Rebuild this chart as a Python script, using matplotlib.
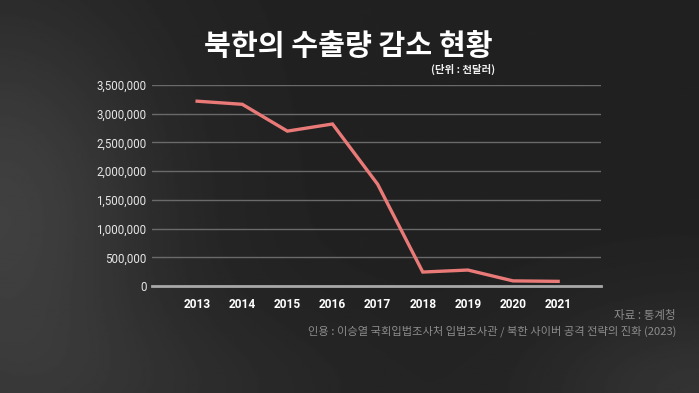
import numpy as np
import matplotlib
matplotlib.use('Agg')
import matplotlib.pyplot as plt

# data (unit: thousand dollars)
years = [2013, 2014, 2015, 2016, 2017, 2018, 2019, 2020, 2021]
exports = [3218000, 3164000, 2697000, 2821000, 1772000, 243000, 278000, 89000, 81000]
yticks = [0, 500000, 1000000, 1500000, 2000000, 2500000, 3000000, 3500000]

title = '북한의 수출량 감소 현황'
unit = '(단위 : 천달러)'
source = '자료 : 통계청'
cite = '인용 : 이승열 국회입법조사처 입법조사관 / 북한 사이버 공격 전략의 진화 (2023)'

kr = ['Noto Sans CJK KR', 'DejaVu Sans']
narrow = ['Liberation Sans Narrow', 'Roboto', 'DejaVu Sans']

fig = plt.figure(figsize=(6.99, 3.93), dpi=100)

# dark background with soft lighter patches
bg = fig.add_axes([0, 0, 1, 1])
gx, gy = np.meshgrid(np.linspace(0, 1, 350), np.linspace(0, 1, 200))
shade = 0.13 + 0.12 * np.exp(-((gx - 0.0) ** 2 / 0.05 + (gy - 0.55) ** 2 / 0.3))
shade += 0.07 * np.exp(-((gx - 1.0) ** 2 / 0.05 + (gy - 1.0) ** 2 / 0.05))
shade += 0.04 * np.exp(-((gx - 0.2) ** 2 / 0.1 + (gy - 1.0) ** 2 / 0.05))
bg.imshow(shade, cmap='gray', vmin=0, vmax=1, aspect='auto', extent=[0, 1, 0, 1])
bg.set_axis_off()

ax = fig.add_axes([152 / 699, 107 / 393, 449 / 699, 201 / 393])
ax.patch.set_alpha(0)
ax.plot(years, exports, color='#e97a78', lw=2.4, solid_joinstyle='miter', clip_on=False, zorder=3)

ax.set_xlim(2012, 2021.95)
ax.set_ylim(0, 3500000)
ax.set_yticks(yticks)
ax.set_yticklabels([f'{v:,}' for v in yticks], family=narrow, fontsize=8.3, color='#e6e6e6')
ax.set_xticks(years)
ax.set_xticklabels([str(y) for y in years], family=narrow, fontsize=8.6, color='white', fontweight='bold')
ax.tick_params(length=0)
ax.tick_params(axis='y', pad=4)
ax.tick_params(axis='x', pad=9)
ax.grid(axis='y', color='#6a6a6a', lw=1)
ax.set_axisbelow(True)
for s in ['top', 'right', 'left']:
    ax.spines[s].set_visible(False)
ax.spines['bottom'].set_color('#a8a8a8')
ax.spines['bottom'].set_linewidth(2)

fig.text(348 / 699, 1 - 46 / 393, title, family=kr, fontsize=21, fontweight='bold',
         color='white', ha='center', va='center')
fig.text(495 / 699, 1 - 69 / 393, unit, family=kr, fontsize=7.5, fontweight='bold',
         color='#f0f0f0', ha='right', va='center')
fig.text(676 / 699, 1 - 315 / 393, source, family=kr, fontsize=8.3, color='#8c8c8c',
         ha='right', va='center')
fig.text(676 / 699, 1 - 331 / 393, cite, family=kr, fontsize=8.1, color='#8c8c8c',
         ha='right', va='center')

fig.savefig('out.png', dpi=100)
